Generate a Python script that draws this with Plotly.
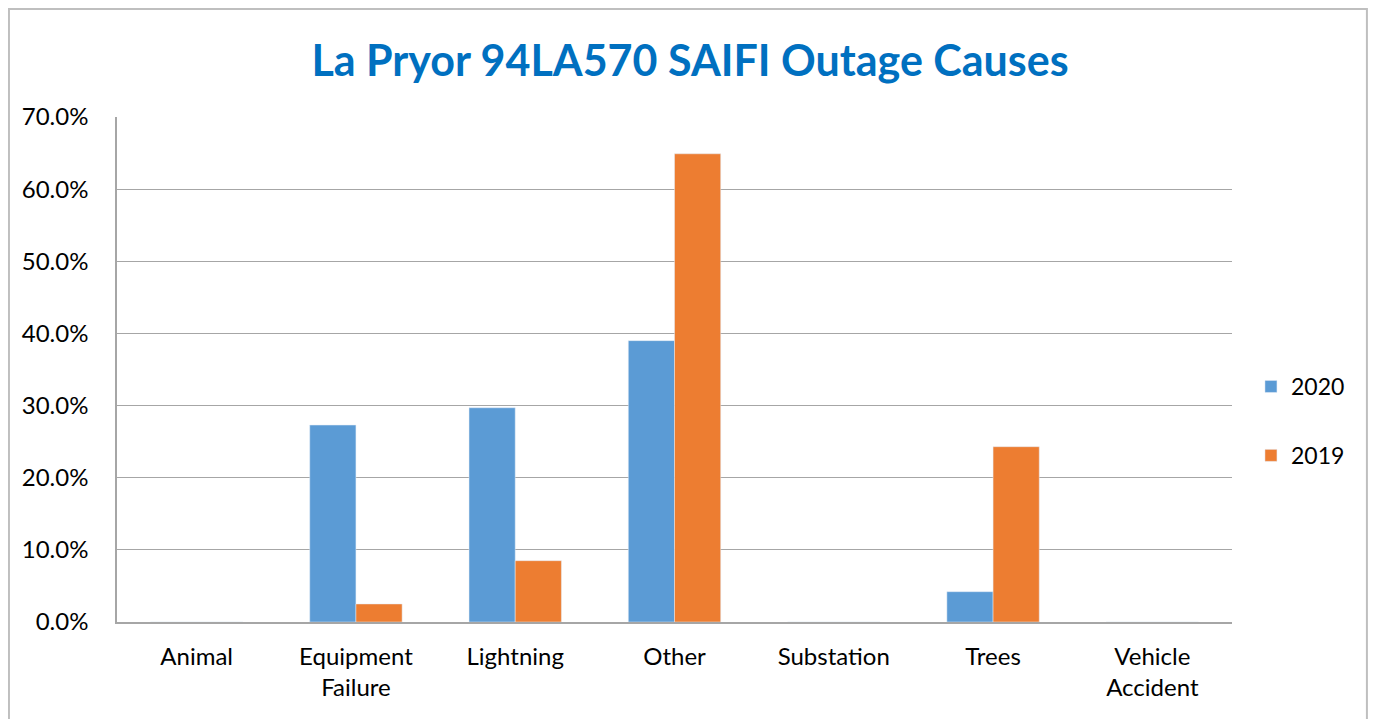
import plotly.graph_objects as go

# categories and values (percent)
causes = ["Animal", "Equipment<br>Failure", "Lightning", "Other", "Substation", "Trees", "Vehicle<br>Accident"]
saifi_2020 = [0.0, 27.3, 29.7, 39.0, 0.0, 4.2, 0.0]
saifi_2019 = [0.0, 2.5, 8.5, 64.9, 0.0, 24.3, 0.0]
y_ticks = [0, 10, 20, 30, 40, 50, 60, 70]
y_tick_labels = ["%.1f%%" % v for v in y_ticks]

fig = go.Figure()
fig.add_trace(go.Bar(x=causes, y=saifi_2020, name="2020", legendgroup="a", marker_color="#5B9BD5"))
fig.add_trace(go.Bar(x=causes, y=saifi_2019, name="2019", legendgroup="b", marker_color="#ED7D31"))

# the page body has an 8px margin, so the figure is sized/offset to compensate
fig.update_layout(
    width=1372,
    height=711,
    margin=dict(l=109, r=148, t=109, b=97),
    paper_bgcolor="white",
    plot_bgcolor="white",
    font=dict(family="Lato, Carlito, sans-serif", size=23, color="black"),
    title=dict(
        text="<b>La Pryor 94LA570 SAIFI Outage Causes</b>",
        font=dict(size=43, color="#0070C0"),
        x=(690 - 8) / 1372, xanchor="center", y=1 - (61 - 8) / 711, yanchor="middle",
    ),
    barmode="group",
    bargap=0.42,
    bargroupgap=0,
    showlegend=True,
    legend=dict(
        x=1.017, xanchor="left", y=0.398, yanchor="middle",
        font=dict(size=23),
        tracegroupgap=36,
        traceorder="grouped",
        bgcolor="rgba(0,0,0,0)",
    ),
    shapes=[
        dict(type="rect", xref="paper", yref="paper",
             x0=-0.0969, x1=1.121, y0=-0.25, y1=1.2139,
             line=dict(color="#BFBFBF", width=2), fillcolor="rgba(0,0,0,0)", layer="below"),
    ],
)
fig.update_xaxes(
    showline=True, linecolor="#A6A6A6", linewidth=1.5,
    ticks="", tickfont=dict(size=24), showgrid=False, ticklabelstandoff=12,
)
fig.update_yaxes(
    range=[0, 70], tickvals=y_ticks, ticktext=y_tick_labels,
    showgrid=True, gridcolor="#A6A6A6", gridwidth=1,
    showline=True, linecolor="#A6A6A6", linewidth=1.5,
    zeroline=False, ticks="", ticklen=0, tickfont=dict(size=24),
    ticklabelstandoff=22,
)

fig.write_html("out.html")
